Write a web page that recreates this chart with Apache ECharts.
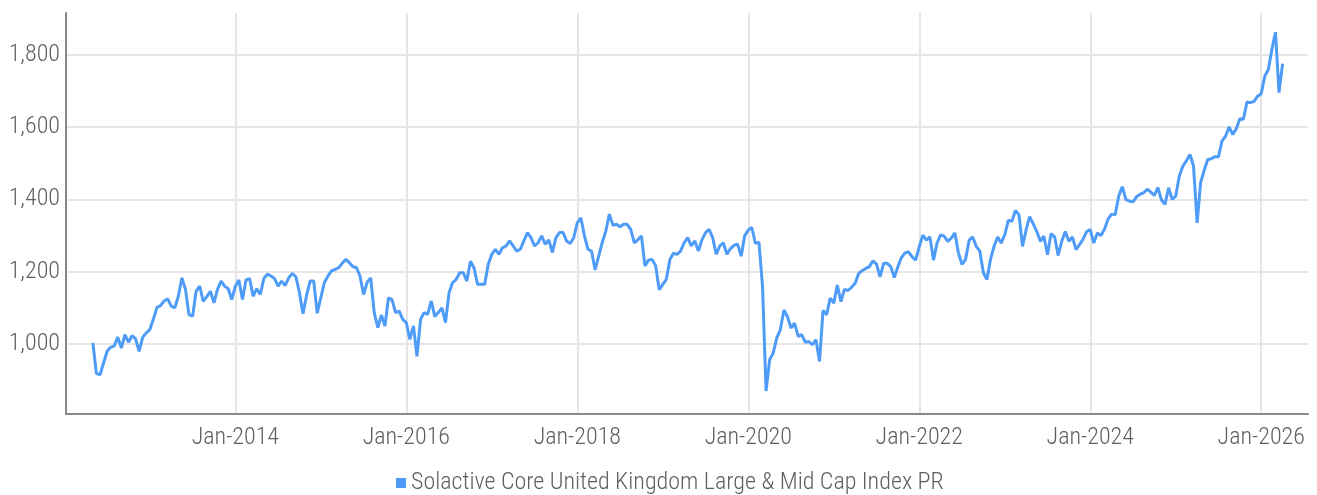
<!DOCTYPE html>
<html><head><meta charset="utf-8">
<script src="https://cdn.jsdelivr.net/npm/echarts@6/dist/echarts.min.js"></script>
<style>html,body{margin:0;padding:0;background:#fff}#c{width:1317px;height:495px}</style>
</head><body><div id="c"></div>
<script>
const seriesName = 'Solactive Core United Kingdom Large & Mid Cap Index PR';
// observations on the 1st and 16th of each month, starting 2012-05-01
const startYear = 2012;
const startMonth = 5;
const values = [
  1003, 919, 915, 947, 980, 991, 995,1019, 989,1026,
  1005,1023,1014, 980,1019,1031,1040,1069,1101,1106,
  1119,1125,1105,1100,1132,1183,1151,1081,1077,1146,
  1160,1118,1131,1146,1114,1151,1174,1160,1153,1123,
  1160,1177,1123,1177,1181,1132,1153,1137,1181,1193,
  1188,1181,1160,1174,1162,1183,1195,1186,1142,1084,
  1135,1174,1174,1085,1128,1170,1188,1202,1206,1211,
  1223,1234,1225,1214,1211,1188,1137,1170,1183,1087,
  1045,1080,1050,1128,1122,1087,1091,1068,1059,1013,
  1050, 966,1068,1087,1082,1119,1076,1087,1100,1059,
  1142,1170,1179,1197,1197,1174,1229,1211,1165,1165,
  1165,1220,1248,1262,1248,1266,1271,1285,1271,1257,
  1262,1285,1308,1294,1271,1280,1299,1276,1288,1253,
  1294,1308,1308,1285,1278,1294,1335,1349,1299,1262,
  1257,1205,1243,1280,1312,1359,1328,1331,1324,1331,
  1331,1317,1280,1288,1299,1216,1232,1234,1216,1150,
  1165,1179,1234,1251,1248,1257,1280,1294,1271,1285,
  1257,1288,1308,1317,1294,1248,1271,1280,1248,1264,
  1273,1276,1243,1299,1315,1322,1278,1282,1159, 870,
   957, 975,1017,1039,1094,1076,1044,1058,1021,1026,
  1005,1007, 998,1012, 952,1093,1081,1127,1113,1163,
  1117,1151,1148,1157,1168,1195,1203,1209,1214,1230,
  1221,1186,1223,1223,1214,1184,1214,1239,1252,1255,
  1241,1232,1269,1301,1287,1296,1232,1279,1302,1298,
  1284,1293,1307,1252,1220,1234,1287,1296,1270,1257,
  1197,1178,1234,1270,1296,1279,1302,1342,1339,1369,
  1357,1270,1316,1352,1332,1311,1284,1298,1247,1305,
  1296,1245,1284,1311,1284,1296,1261,1275,1290,1311,
  1316,1279,1307,1300,1317,1345,1359,1357,1409,1435,
  1400,1395,1393,1407,1414,1418,1428,1420,1411,1432,
  1398,1386,1432,1400,1409,1464,1492,1506,1524,1492,
  1335,1446,1481,1510,1512,1518,1518,1561,1575,1600,
  1579,1595,1623,1621,1669,1667,1671,1685,1692,1740,
  1759,1814,1862,1695,1775
];
const xTickYears = [2014, 2016, 2018, 2020, 2022, 2024, 2026];
const yTickValues = [1000, 1200, 1400, 1600, 1800];

const FONT = "'Roboto Condensed', 'Liberation Sans Narrow', Roboto, sans-serif";
const TEXT_COLOR = '#5f5f5f';

function obsDate(i) {
  const m = startMonth - 1 + Math.floor(i / 2);
  const y = startYear + Math.floor(m / 12);
  const mo = m % 12;
  const d = i % 2 ? 16 : 1;
  return y + mo / 12 + (d - 1) / 365.25;
}
const data = values.map((v, i) => [obsDate(i), v]);

const chart = echarts.init(document.getElementById('c'), null, {renderer: 'canvas'});
chart.setOption({
  animation: false,
  backgroundColor: '#ffffff',
  grid: {left: 66, right: 9, top: 13, bottom: 81.5},
  legend: {
    data: [seriesName],
    left: 391, top: 466,
    icon: 'rect', itemWidth: 10, itemHeight: 10, itemGap: 10,
    textStyle: {fontFamily: FONT, fontWeight: 300, fontSize: 24, color: TEXT_COLOR}
  },
  xAxis: {
    type: 'value',
    min: 2012.019, max: 2026.547,
    axisLine: {show: true, lineStyle: {color: '#8a8a8a', width: 2}},
    axisTick: {show: false, customValues: xTickYears},
    splitLine: {show: true, lineStyle: {color: '#e6e6e6', width: 2}},
    axisLabel: {
      customValues: xTickYears,
      formatter: v => 'Jan-' + Math.round(v),
      fontFamily: FONT, fontWeight: 300, fontSize: 24, color: TEXT_COLOR, margin: 12
    }
  },
  yAxis: {
    type: 'value',
    min: 808, max: 1915,
    axisLine: {show: true, lineStyle: {color: '#8a8a8a', width: 2}},
    axisTick: {show: false, customValues: yTickValues},
    splitLine: {show: true, lineStyle: {color: '#e6e6e6', width: 2}},
    axisLabel: {
      customValues: yTickValues,
      formatter: v => v.toLocaleString('en-US'),
      fontFamily: FONT, fontWeight: 300, fontSize: 24, color: TEXT_COLOR, margin: 6
    }
  },
  series: [{
    name: seriesName,
    type: 'line',
    data: data,
    showSymbol: false,
    symbol: 'none',
    lineStyle: {color: '#4e9cf8', width: 3},
    itemStyle: {color: '#4e9cf8'}
  }]
});
</script>
</body></html>
